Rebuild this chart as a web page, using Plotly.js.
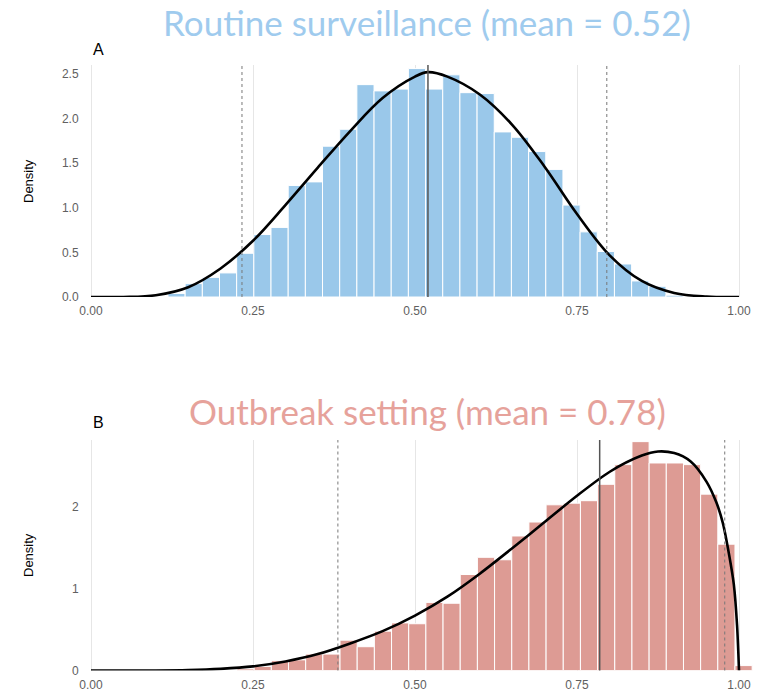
<!DOCTYPE html>
<html>
<head>
<meta charset="utf-8">
<script src="https://cdn.plot.ly/plotly-3.0.1.min.js"></script>
<style>
  html, body { margin: 0; padding: 0; background: #fff; }
  #chart { width: 762px; height: 693px; }
</style>
</head>
<body>
<div id="chart"></div>
<script>
// ---------- DATA ----------
const xTickVals = [0, 0.25, 0.5, 0.75, 1.0];
const xTickText = ["0.00", "0.25", "0.50", "0.75", "1.00"];

// Panel A: routine surveillance
const titleA = "Routine surveillance (mean = 0.52)";
const binStartA = 0.1188;
const binWidthA = 0.0265;
const densityA = [0.04, 0.15, 0.22, 0.27, 0.49, 0.70, 0.78, 1.25, 1.29, 1.69,
                  1.88, 2.38, 2.31, 2.33, 2.56, 2.33, 2.49, 2.29, 2.28, 1.85,
                  1.79, 1.63, 1.43, 1.03, 0.73, 0.51, 0.37, 0.18, 0.12, 0.02];
const curveAx = [0, 0.05, 0.10, 0.15, 0.20, 0.25, 0.30, 0.35, 0.40, 0.45,
                 0.50, 0.52, 0.55, 0.60, 0.65, 0.70, 0.75, 0.80, 0.85, 0.90,
                 0.95, 1.0];
const curveAy = [0, 0.0, 0.02, 0.11, 0.32, 0.63, 1.03, 1.45, 1.86, 2.23,
                 2.47, 2.52, 2.47, 2.27, 1.93, 1.46, 0.93, 0.47, 0.18, 0.045,
                 0.005, 0];
const meanA = 0.52;
const intervalA = [0.233, 0.796];
const yTickValsA = [0, 0.5, 1.0, 1.5, 2.0, 2.5];
const yTickTextA = ["0.0", "0.5", "1.0", "1.5", "2.0", "2.5"];

// Panel B: outbreak setting
const titleB = "Outbreak setting (mean = 0.78)";
const binStartB = 0.2253;
const binWidthB = 0.0265;
const densityB = [0.02, 0.05, 0.12, 0.13, 0.20, 0.20, 0.37, 0.29, 0.48, 0.58,
                  0.57, 0.83, 0.82, 1.17, 1.38, 1.35, 1.64, 1.81, 2.02, 2.04,
                  2.07, 2.27, 2.51, 2.79, 2.53, 2.53, 2.51, 2.15, 1.54, 0.06];
const curveBx = [0, 0.10, 0.15, 0.20, 0.25, 0.30, 0.35, 0.40, 0.45, 0.50,
                 0.55, 0.60, 0.65, 0.70, 0.75, 0.80, 0.85, 0.875, 0.90, 0.925,
                 0.95, 0.965, 0.975, 0.985, 0.992, 0.997, 1.0];
const curveBy = [0, 0.0, 0.005, 0.02, 0.05, 0.11, 0.20, 0.33, 0.48, 0.67,
                 0.90, 1.18, 1.49, 1.81, 2.13, 2.42, 2.62, 2.67, 2.65, 2.55,
                 2.30, 2.05, 1.80, 1.40, 1.05, 0.55, 0];
const meanB = 0.785;
const intervalB = [0.381, 0.978];
const yTickValsB = [0, 1, 2];
const yTickTextB = ["0", "1", "2"];

// ---------- STYLE ----------
const colA = "#9ac8ea";
const colB = "#dd9b94";
const titleColA = "#9fcbee";
const titleColB = "#e6a29b";
const gridCol = "#e6e6e6";
const tickFont = { family: "Liberation Sans, Arial, sans-serif", size: 12, color: "#606060" };

function centers(start, width, n) {
  const c = [];
  for (let i = 0; i < n; i++) c.push(start + (i + 0.5) * width);
  return c;
}

const traces = [
  {
    type: "bar", x: centers(binStartA, binWidthA, densityA.length), y: densityA,
    width: binWidthA, marker: { color: colA, line: { color: "#ffffff", width: 1 } },
    xaxis: "x", yaxis: "y", hoverinfo: "skip"
  },
  {
    type: "scatter", mode: "lines", x: curveAx, y: curveAy,
    line: { color: "#000000", width: 2.6, shape: "spline", smoothing: 1.0 },
    xaxis: "x", yaxis: "y", hoverinfo: "skip"
  },
  {
    type: "bar", x: centers(binStartB, binWidthB, densityB.length), y: densityB,
    width: binWidthB, marker: { color: colB, line: { color: "#ffffff", width: 1 } },
    xaxis: "x2", yaxis: "y2", hoverinfo: "skip"
  },
  {
    type: "scatter", mode: "lines", x: curveBx, y: curveBy,
    line: { color: "#000000", width: 2.6, shape: "spline", smoothing: 0.8 },
    xaxis: "x2", yaxis: "y2", hoverinfo: "skip"
  }
];

function vline(xv, xref, yref, dash, color, width) {
  return { type: "line", xref: xref, yref: yref + " domain", x0: xv, x1: xv, y0: 0, y1: 1,
           line: { color: color, width: width, dash: dash }, layer: "above" };
}

const shapes = [
  vline(meanA, "x", "y", "solid", "#555555", 1.5),
  vline(intervalA[0], "x", "y", "dot", "#777777", 1),
  vline(intervalA[1], "x", "y", "dot", "#777777", 1),
  vline(meanB, "x2", "y2", "solid", "#555555", 1.5),
  vline(intervalB[0], "x2", "y2", "dot", "#777777", 1),
  vline(intervalB[1], "x2", "y2", "dot", "#777777", 1)
];

const W = 762, H = 693;
const ML = 88, MR = 7;
const PW = W - ML - MR;
const px = v => (v - ML) / PW;          // pixel x -> paper x
const py = v => 1 - v / H;              // pixel y -> paper y
const xRange = [-3 / 648, 1 + 16 / 648];

const xAxisCommon = {
  range: xRange, tickvals: xTickVals, ticktext: xTickText, tickfont: tickFont,
  showgrid: true, gridcolor: gridCol, gridwidth: 1, zeroline: false, showline: false,
  ticks: "outside", ticklen: 3, tickcolor: "rgba(0,0,0,0)", fixedrange: true
};
const yAxisCommon = {
  showgrid: false, zeroline: false, showline: false, tickfont: tickFont,
  ticks: "outside", ticklen: 6, tickcolor: "rgba(0,0,0,0)", fixedrange: true
};

const layout = {
  width: W, height: H,
  margin: { l: ML, r: MR, t: 0, b: 0, pad: 0 },
  paper_bgcolor: "#ffffff", plot_bgcolor: "#ffffff",
  showlegend: false, bargap: 0,
  xaxis: Object.assign({}, xAxisCommon, { anchor: "y" }),
  yaxis: Object.assign({}, yAxisCommon, {
    domain: [py(297), py(65)], range: [0, 2.60],
    tickvals: yTickValsA, ticktext: yTickTextA, anchor: "x"
  }),
  xaxis2: Object.assign({}, xAxisCommon, { anchor: "y2" }),
  yaxis2: Object.assign({}, yAxisCommon, {
    domain: [py(670.5), py(440)], range: [0, 2.81],
    tickvals: yTickValsB, ticktext: yTickTextB, anchor: "x2"
  }),
  shapes: shapes,
  annotations: [
    { text: titleA, xref: "paper", yref: "paper", x: px(426.5), y: py(22),
      xanchor: "center", yanchor: "middle", showarrow: false,
      font: { family: "Lato, Open Sans, sans-serif", size: 35, color: titleColA } },
    { text: titleB, xref: "paper", yref: "paper", x: px(427.5), y: py(411),
      xanchor: "center", yanchor: "middle", showarrow: false,
      font: { family: "Lato, Open Sans, sans-serif", size: 35, color: titleColB } },
    { text: "A", xref: "paper", yref: "paper", x: px(91), y: py(49),
      xanchor: "left", yanchor: "middle", showarrow: false,
      font: { family: "Liberation Sans, Arial, sans-serif", size: 16, color: "#000" } },
    { text: "B", xref: "paper", yref: "paper", x: px(91), y: py(422.5),
      xanchor: "left", yanchor: "middle", showarrow: false,
      font: { family: "Liberation Sans, Arial, sans-serif", size: 16, color: "#000" } },
    { text: "Density", xref: "paper", yref: "paper", x: px(28), y: py(181),
      xanchor: "center", yanchor: "middle", textangle: -90, showarrow: false,
      font: { family: "Liberation Sans, Arial, sans-serif", size: 13, color: "#000" } },
    { text: "Density", xref: "paper", yref: "paper", x: px(28), y: py(555),
      xanchor: "center", yanchor: "middle", textangle: -90, showarrow: false,
      font: { family: "Liberation Sans, Arial, sans-serif", size: 13, color: "#000" } }
  ]
};

Plotly.newPlot("chart", traces, layout, { displayModeBar: false, staticPlot: true });
</script>
</body>
</html>
